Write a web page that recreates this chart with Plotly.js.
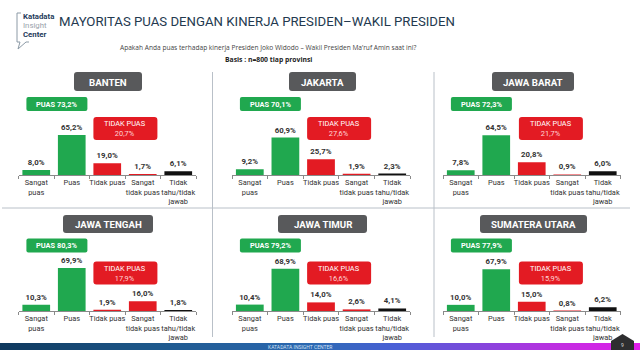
<!DOCTYPE html>
<html><head><meta charset="utf-8">
<script src="https://cdn.plot.ly/plotly-3.0.1.min.js"></script>
<style>html,body{margin:0;padding:0;background:#fff;}#chart{width:640px;height:350px;}</style>
</head><body><div id="chart"></div>
<script>
// ---- data ----
const provinces = ['BANTEN','JAKARTA','JAWA BARAT','JAWA TENGAH','JAWA TIMUR','SUMATERA UTARA'];
const categories = ['Sangat<br>puas','Puas','Tidak puas','Sangat<br>tidak puas','Tidak<br>tahu/tidak<br>jawab'];
const banten        = [8.0, 65.2, 19.0, 1.7, 6.1];
const jakarta       = [9.2, 60.9, 25.7, 1.9, 2.3];
const jawaBarat     = [7.8, 64.5, 20.8, 0.9, 6.0];
const jawaTengah    = [10.3, 69.9, 1.9, 16.0, 1.8];
const jawaTimur     = [10.4, 68.9, 14.0, 2.6, 4.1];
const sumateraUtara = [10.0, 67.9, 15.0, 0.8, 6.2];
const puasTotal      = [73.2, 70.1, 72.3, 80.3, 79.2, 77.9];
const tidakPuasTotal = [20.7, 27.6, 21.7, 17.9, 16.6, 15.9];
const seriesList = [banten, jakarta, jawaBarat, jawaTengah, jawaTimur, sumateraUtara];

// ---- styling ----
const W = 640, H = 350;
const X = px => px / W;
const Y = py => 1 - py / H;
const GREEN = '#20a84f', RED = '#e31b23', BLACK = '#111111';
const barColors = [GREEN, GREEN, RED, RED, BLACK];
const fmt = v => v.toFixed(1).replace('.', ',') + '%';
const FONT = 'Roboto, Arial, sans-serif';

// panel geometry in pixels
const colX = [[18.5, 196], [232, 410], [443, 620.5]];
const rowBase = [175, 311];
const plotH = 61.5; // px for 0..100

const data = [];
const layout = {
  width: W, height: H, margin: {l:0, r:0, t:0, b:0},
  paper_bgcolor: '#fff', plot_bgcolor: 'rgba(0,0,0,0)',
  showlegend: false, bargap: 0.22,
  font: {family: FONT, color: '#333'},
  shapes: [], annotations: []
};

function rr(x0, y0, x1, y1, r, color) {
  const p = [
    `M${X(x0+r)},${Y(y0)}`, `L${X(x1-r)},${Y(y0)}`, `Q${X(x1)},${Y(y0)} ${X(x1)},${Y(y0+r)}`,
    `L${X(x1)},${Y(y1-r)}`, `Q${X(x1)},${Y(y1)} ${X(x1-r)},${Y(y1)}`,
    `L${X(x0+r)},${Y(y1)}`, `Q${X(x0)},${Y(y1)} ${X(x0)},${Y(y1-r)}`,
    `L${X(x0)},${Y(y0+r)}`, `Q${X(x0)},${Y(y0)} ${X(x0+r)},${Y(y0)}`, 'Z'
  ].join(' ');
  layout.shapes.push({type:'path', xref:'paper', yref:'paper', path:p, fillcolor:color, line:{width:0}, layer:'above'});
}
function ann(x, y, text, size, color, opts) {
  layout.annotations.push(Object.assign({
    xref:'paper', yref:'paper', x:X(x), y:Y(y), text:text, showarrow:false,
    xanchor:'center', yanchor:'middle', font:{size:size, color:color, family:FONT}
  }, opts||{}));
}

// title box geometry per panel (px)
const titleBox = [[74,72,142,91],[289,72,356,91],[492,72,574,91],[63,215,153,233],[278,215,367,233],[480,215,587,233]];

seriesList.forEach((vals, i) => {
  const col = i % 3, row = Math.floor(i / 3);
  const n = i + 1;
  const xa = 'xaxis' + (n === 1 ? '' : n), ya = 'yaxis' + (n === 1 ? '' : n);
  const [xl, xr] = colX[col];
  const base = rowBase[row];
  data.push({
    type:'bar', x: categories, y: vals,
    xaxis: 'x' + (n === 1 ? '' : n), yaxis: 'y' + (n === 1 ? '' : n),
    marker: {color: barColors, line:{width:0}},
    text: vals.map(fmt), textposition: 'outside', cliponaxis: false,
    textfont: {size: 7.8, color: '#333', family: FONT, weight: 'bold'},
    hoverinfo: 'skip'
  });
  layout[xa] = {
    domain: [X(xl), X(xr)], anchor: 'y' + (n === 1 ? '' : n), type:'category',
    range: [-0.5, 4.5], showline: true, linecolor: '#8a8a8a', linewidth: 1,
    ticks: 'outside', tickson: 'boundaries', ticklen: 3, tickcolor: '#8a8a8a', tickangle: 0,
    tickfont: {size: 7.4, color: '#333', family: FONT}, showgrid: false, fixedrange: true
  };
  layout[ya] = {
    domain: [Y(base), Y(base - plotH)], anchor: 'x' + (n === 1 ? '' : n),
    range: [0, 100], visible: false, fixedrange: true
  };
  // province title box
  const tb = titleBox[i];
  rr(tb[0], tb[1], tb[2], tb[3], 3, '#58595b');
  ann((tb[0]+tb[2])/2, (tb[1]+tb[3])/2 + 0.5, '<b>' + provinces[i] + '</b>', 9.7, '#fff');
  // green PUAS box
  const bw = (xr - xl) / 5;
  const gx0 = xl + bw*0.11 + 4, gy0 = row === 0 ? 97 : 238.5;
  rr(gx0, gy0, gx0 + 61, gy0 + 14, 2, GREEN);
  ann(gx0 + 30.5, gy0 + 7.3, 'PUAS ' + fmt(puasTotal[i]), 7.4, '#fff', {font:{size:7.4,color:'#fff',family:FONT,weight:'bold'}});
  // red TIDAK PUAS box
  const rx0 = xl + bw*2.11 + (col === 2 ? 1 : 0), ry0 = row === 0 ? 117 : 261.5;
  rr(rx0, ry0, rx0 + 64, ry0 + 23, 3, RED);
  ann(rx0 + 32, ry0 + 11.5, 'TIDAK PUAS<br><span style="color:#ffd6d6">' + fmt(tidakPuasTotal[i]) + '</span>', 7.4, '#fff');
});

// separators
const sep = {type:'line', xref:'paper', yref:'paper', line:{color:'#b9c0c8', width:1}, layer:'below'};
layout.shapes.push(Object.assign({}, sep, {x0:X(212.5), x1:X(212.5), y0:Y(72), y1:Y(337)}));
layout.shapes.push(Object.assign({}, sep, {x0:X(434), x1:X(434), y0:Y(72), y1:Y(337)}));
layout.shapes.push(Object.assign({}, sep, {x0:X(2), x1:X(630), y0:Y(208), y1:Y(208)}));

// header
ann(57, 22, 'MAYORITAS PUAS DENGAN KINERJA PRESIDEN\u2013WAKIL PRESIDEN', 13.2, '#23394f', {xanchor:'left'});
ann(268, 47, 'Apakah Anda puas terhadap kinerja Presiden Joko Widodo \u2013 Wakil Presiden Ma\u2019ruf Amin saat ini?', 6.6, '#444', {font:{size:6.6,color:'#444',family:'Open Sans, sans-serif'}});
ann(268, 59, '<b>Basis : n=800 tiap provinsi</b>', 6.8, '#222', {font:{size:6.8,color:'#222',family:'Open Sans, sans-serif'}});

// logo
layout.shapes.push({type:'path', xref:'paper', yref:'paper',
  path:`M${X(21)},${Y(13)} L${X(17)},${Y(13)} L${X(17)},${Y(42)} L${X(20)},${Y(42)} L${X(18)},${Y(49)} L${X(26)},${Y(42)} L${X(29)},${Y(42)}`,
  line:{color:'#8c9aa6', width:1}});
ann(21, 16.5, '<b>Katadata</b>', 7.8, '#1f3b5b', {xanchor:'left'});
ann(21, 25.5, 'Insight', 7.8, '#9aa3ab', {xanchor:'left'});
ann(21, 34, '<b>Center</b>', 7.8, '#1f3b5b', {xanchor:'left'});

// footer band gradient
const stops = [[0,[14,56,92]],[0.25,[31,90,142]],[0.5,[45,105,180]],[0.62,[75,95,215]],[0.75,[130,70,220]],[0.88,[195,45,225]],[1,[225,30,235]]];
function colAt(t){
  for (let k=0;k<stops.length-1;k++){
    const [a,ca]=stops[k],[b,cb]=stops[k+1];
    if (t<=b){const f=(t-a)/(b-a);return 'rgb('+ca.map((c,j)=>Math.round(c+(cb[j]-c)*f)).join(',')+')';}
  }
  return 'rgb(225,30,235)';
}
const NS = 64;
for (let s=0;s<NS;s++){
  layout.shapes.push({type:'rect', xref:'paper', yref:'paper', x0:s/NS, x1:(s+1)/NS+0.002, y0:0, y1:Y(343),
    fillcolor: colAt((s+0.5)/NS), line:{width:0}, layer:'above'});
}
ann(300, 346.5, 'KATADATA INSIGHT CENTER', 5, '#cfe0f5');
layout.shapes.push({type:'path', xref:'paper', yref:'paper',
  path:`M${X(611)},${Y(351)} L${X(611)},${Y(341)} L${X(622.5)},${Y(334)} L${X(634)},${Y(341)} L${X(634)},${Y(351)} Z`,
  fillcolor:'#2e2e30', line:{width:0}, layer:'above'});
ann(622.5, 345, '9', 5, '#ddd');

Plotly.newPlot('chart', data, layout, {staticPlot:true, displayModeBar:false});
</script></body></html>
